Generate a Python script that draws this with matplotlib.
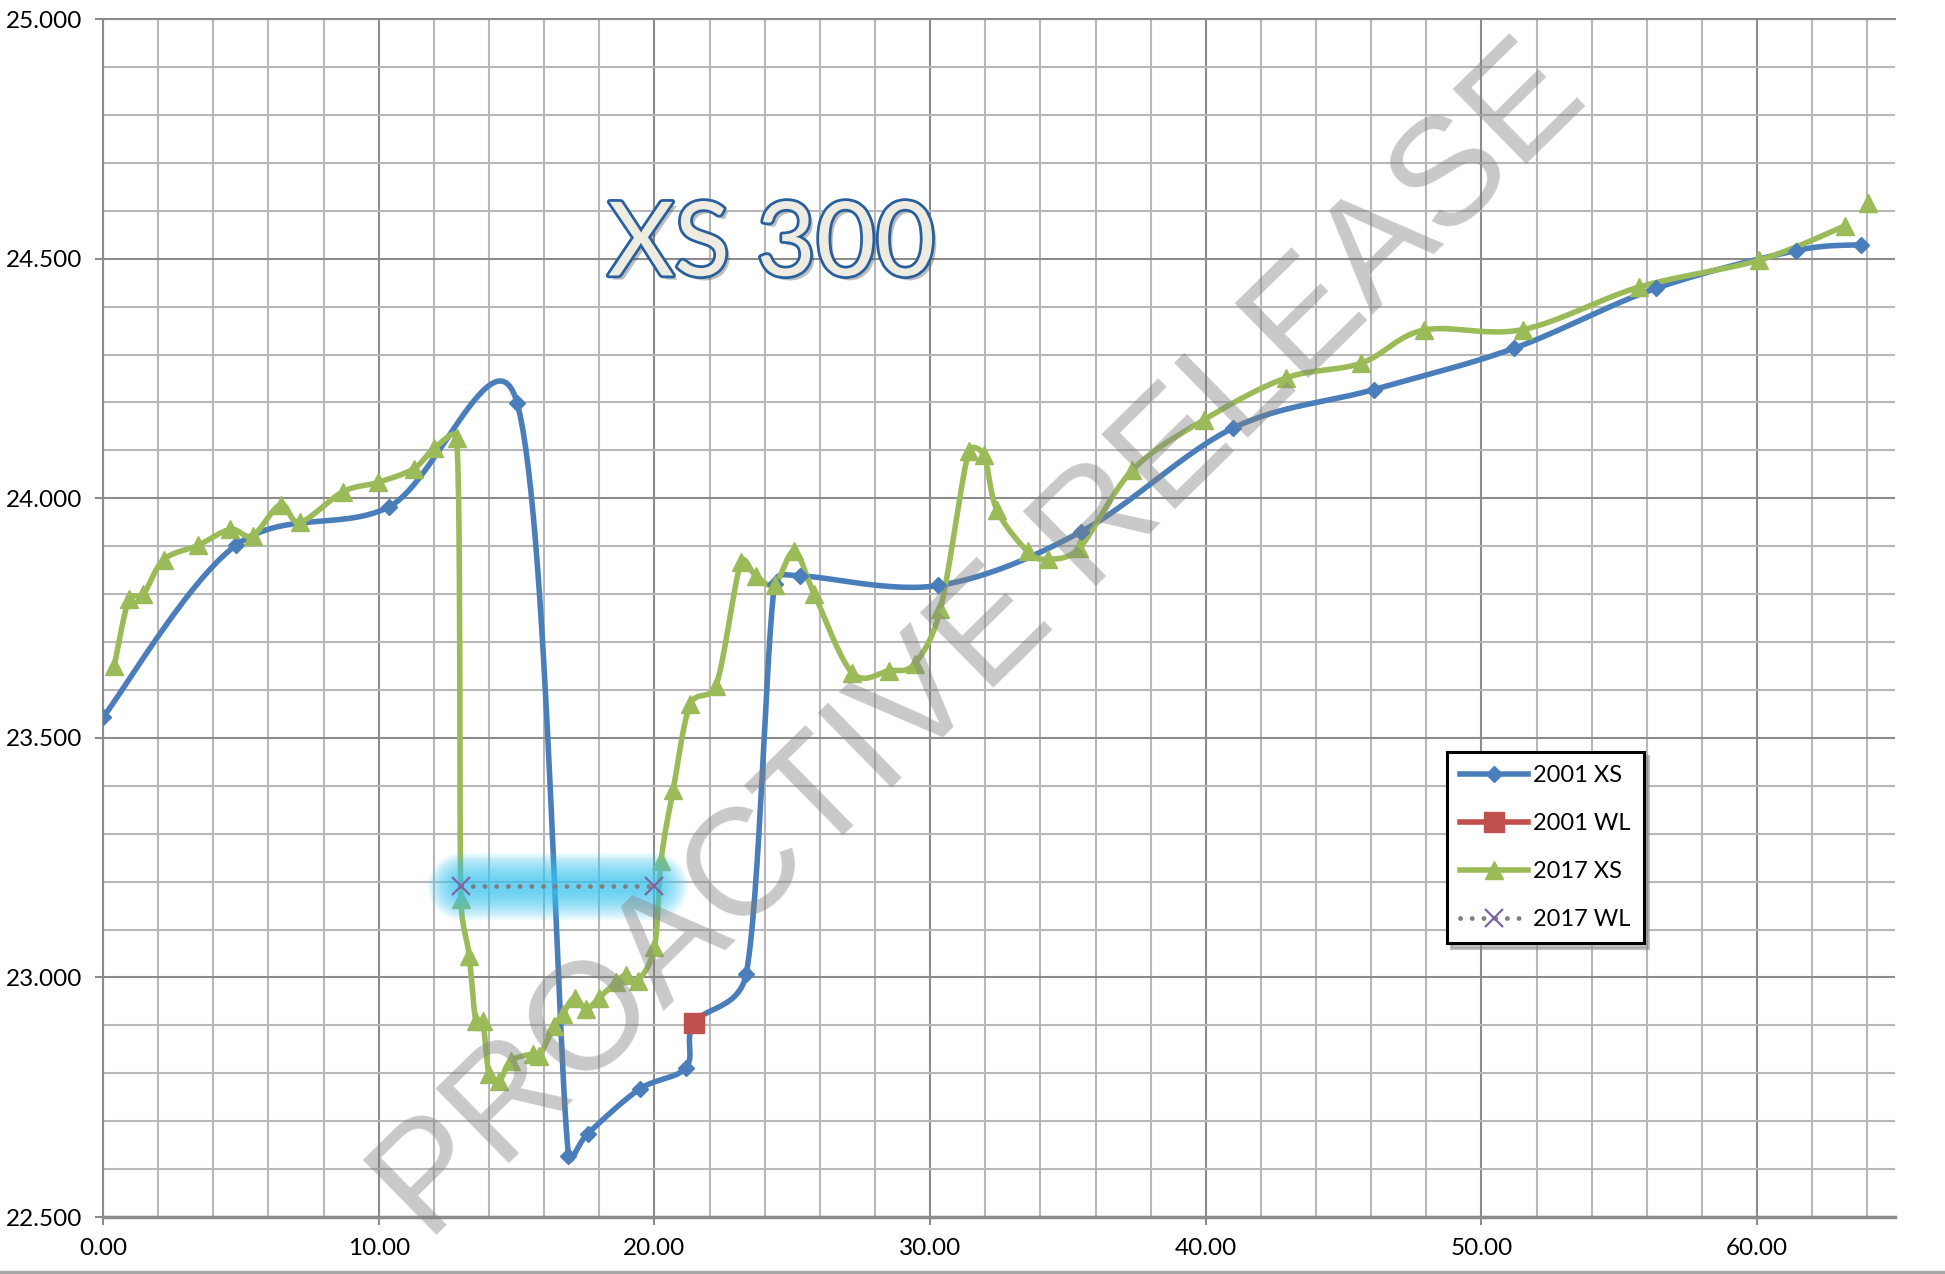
import numpy as np
import matplotlib
matplotlib.use("Agg")
import matplotlib.pyplot as plt
from matplotlib.lines import Line2D
from matplotlib.ticker import MultipleLocator, FormatStrFormatter
import matplotlib.patheffects as pe

plt.rcParams['font.family'] = ['Lato', 'DejaVu Sans']

# 2001 cross section (blue, diamonds)
xs2001_x = [0.0, 4.82, 10.37, 15.02, 16.88, 17.58, 19.46, 21.15, 21.43, 23.33, 24.36,
            25.28, 30.3, 35.47, 40.97, 46.1, 51.18, 56.32, 61.41, 63.76]
xs2001_y = [23.543, 23.902, 23.982, 24.199, 22.628, 22.674, 22.767, 22.812, 22.905, 23.008,
            23.822, 23.838, 23.818, 23.93, 24.146, 24.227, 24.313, 24.438, 24.517, 24.529]

# 2001 water level (red square)
wl2001_x = [21.43]
wl2001_y = [22.905]

# 2017 cross section (green, triangles); last point stands alone
xs2017_x = [0.4, 0.94, 1.46, 2.2, 3.45, 4.61, 5.42, 6.44, 7.14, 8.71, 9.97, 11.27, 12.02,
            12.83, 12.98, 13.28, 13.52, 13.77, 14.0, 14.37, 14.79, 15.58, 15.82, 16.37,
            16.67, 17.1, 17.52, 18.0, 18.6, 18.97, 19.39, 20.0, 20.24, 20.68, 21.3, 22.23,
            23.14, 23.68, 24.36, 25.07, 25.79, 27.17, 28.5, 29.44, 30.37, 31.4, 31.95,
            32.42, 33.54, 34.26, 35.41, 37.34, 39.94, 42.9, 45.64, 47.9, 51.49, 55.73,
            60.07, 63.2]
xs2017_y = [23.649, 23.79, 23.80, 23.872, 23.902, 23.935, 23.922, 23.987, 23.95, 24.014,
            24.033, 24.062, 24.105, 24.125, 23.164, 23.045, 22.909, 22.909, 22.798, 22.784,
            22.826, 22.84, 22.836, 22.899, 22.923, 22.958, 22.934, 22.958, 22.99, 23.005,
            22.993, 23.063, 23.244, 23.392, 23.57, 23.608, 23.867, 23.838, 23.82, 23.889,
            23.801, 23.636, 23.64, 23.655, 23.768, 24.098, 24.09, 23.976, 23.889, 23.873,
            23.896, 24.059, 24.164, 24.251, 24.282, 24.351, 24.352, 24.441, 24.497, 24.569]
xs2017_end_x = [64.02]
xs2017_end_y = [24.616]

# 2017 water level (dotted, x markers)
wl2017_x = [12.98, 20.0]
wl2017_y = [23.19, 23.19]

BLUE = '#4A7EBB'
GREEN = '#9BBB59'
RED = '#C0504D'
PURPLE = '#8064A2'
GRAY = '#7F7F7F'

# rough pixels per data unit, used so the smoothing works in screen space
SX, SY = 27.6, 479.3


def smooth(xv, yv, n=30, k=0.5):
    # excel style smoothed line: bezier with 1/6 tangents,
    # control arms capped to k * segment length to stop big overshoots
    px = np.asarray(xv, float) * SX
    py = np.asarray(yv, float) * SY
    m = len(px)
    t = np.linspace(0, 1, n)
    outx, outy = [], []
    for i in range(m - 1):
        i0 = max(i - 1, 0)
        i3 = min(i + 2, m - 1)
        seg = np.hypot(px[i + 1] - px[i], py[i + 1] - py[i])
        v1 = np.array([px[i + 1] - px[i0], py[i + 1] - py[i0]]) / 6
        v2 = np.array([px[i3] - px[i], py[i3] - py[i]]) / 6
        for v in (v1, v2):
            L = np.hypot(*v)
            if L > k * seg and L > 0:
                v *= k * seg / L
        c1 = (px[i] + v1[0], py[i] + v1[1])
        c2 = (px[i + 1] - v2[0], py[i + 1] - v2[1])
        a, b, c, d = (1 - t) ** 3, 3 * (1 - t) ** 2 * t, 3 * (1 - t) * t ** 2, t ** 3
        outx.append(a * px[i] + b * c1[0] + c * c2[0] + d * px[i + 1])
        outy.append(a * py[i] + b * c1[1] + c * c2[1] + d * py[i + 1])
    return np.concatenate(outx) / SX, np.concatenate(outy) / SY


fig = plt.figure(figsize=(19.45, 12.74), dpi=100)
ax = fig.add_axes([0.053, 0.0447, 0.9213, 0.9403])

ax.set_xlim(0, 65)
ax.set_ylim(22.5, 25.0)
ax.xaxis.set_major_locator(MultipleLocator(10))
ax.xaxis.set_minor_locator(MultipleLocator(2))
ax.yaxis.set_major_locator(MultipleLocator(0.5))
ax.yaxis.set_minor_locator(MultipleLocator(0.1))
ax.xaxis.set_major_formatter(FormatStrFormatter('%.2f'))
ax.yaxis.set_major_formatter(FormatStrFormatter('%.3f'))
ax.grid(which='minor', color='#B8B8B8', lw=1.5)
ax.grid(which='major', color='#8C8C8C', lw=1.5)
ax.set_axisbelow(True)
ax.tick_params(which='major', length=6, width=1.5, color='#8C8C8C', direction='out',
               labelsize=17.5, pad=9)
ax.tick_params(which='minor', length=0)
ax.spines['right'].set_visible(False)
ax.spines['top'].set_color('#8C8C8C')
ax.spines['top'].set_linewidth(1.5)
ax.spines['left'].set_color('#8C8C8C')
ax.spines['left'].set_linewidth(1.5)
ax.spines['bottom'].set_color('#8C8C8C')
ax.spines['bottom'].set_linewidth(2.5)

# 2001 XS
sx, sy = smooth(xs2001_x, xs2001_y)
ax.plot(sx, sy, color=BLUE, lw=4, zorder=3, solid_capstyle='round', solid_joinstyle='round')
ax.plot(xs2001_x, xs2001_y, ls='none', marker='D', ms=8, color=BLUE, zorder=4)

# 2017 XS
sx, sy = smooth(xs2017_x, xs2017_y)
ax.plot(sx, sy, color=GREEN, lw=4, zorder=3, solid_capstyle='round', solid_joinstyle='round')
ax.plot(xs2017_x, xs2017_y, ls='none', marker='^', ms=13, color=GREEN, zorder=4)
ax.plot(xs2017_end_x, xs2017_end_y, ls='none', marker='^', ms=13, color=GREEN, zorder=4)

# 2001 WL
ax.plot(wl2001_x, wl2001_y, ls='none', marker='s', ms=14, color=RED, zorder=5)

# 2017 WL with cyan glow
for w in np.linspace(48, 10, 14):
    ax.plot(wl2017_x, wl2017_y, color='#3CC8F2', lw=w, alpha=0.09,
            solid_capstyle='round', zorder=5)
ax.plot(wl2017_x, wl2017_y, color=GRAY, lw=3.5, ls=(0, (0.01, 2.4)),
        dash_capstyle='round', zorder=6)
ax.plot(wl2017_x, wl2017_y, ls='none', marker='x', ms=13, mew=1.6, color=PURPLE, zorder=7)

# title inside the plot
ax.text(24.24, 24.465, 'XS 300', fontsize=74, color='#EEECE1', ha='center', va='baseline',
        zorder=8,
        path_effects=[pe.SimplePatchShadow(offset=(3, -3), alpha=0.35),
                      pe.Stroke(linewidth=4, foreground='#2A5F9E'), pe.Normal()])

# watermark
fig.text(0.505, 0.494, 'PROACTIVE RELEASE', fontsize=110, family='Liberation Sans',
         color='#7F7F7F', alpha=0.42, rotation=44.5, rotation_mode='anchor',
         ha='center', va='center', zorder=20)

handles = [
    Line2D([], [], color=BLUE, lw=4, marker='D', ms=8),
    Line2D([], [], color=RED, lw=4, marker='s', ms=14),
    Line2D([], [], color=GREEN, lw=4, marker='^', ms=13),
    Line2D([], [], color=GRAY, lw=3.5, ls=(0, (0.01, 2.4)), dash_capstyle='round',
           marker='x', ms=13, mew=1.6, mec=PURPLE),
]
labels = ['2001 XS', '2001 WL', '2017 XS', '2017 WL']
leg = ax.legend(handles, labels, loc='upper left', bbox_to_anchor=(1447 / 1945, 1 - 752 / 1274),
                bbox_transform=fig.transFigure, fontsize=17, frameon=True, fancybox=False,
                shadow={'color': '#888888', 'alpha': 0.5, 'ox': 3, 'oy': -3},
                handlelength=2.9, handletextpad=0.2, labelspacing=1.15, borderpad=0.55,
                borderaxespad=0)
leg.get_frame().set_edgecolor('black')
leg.get_frame().set_linewidth(2.2)
leg.set_zorder(30)

fig.add_artist(Line2D([0, 1], [0.0015, 0.0015], color='#A6A6A6', lw=2.5,
                      transform=fig.transFigure))

fig.savefig('out.png', dpi=100)
